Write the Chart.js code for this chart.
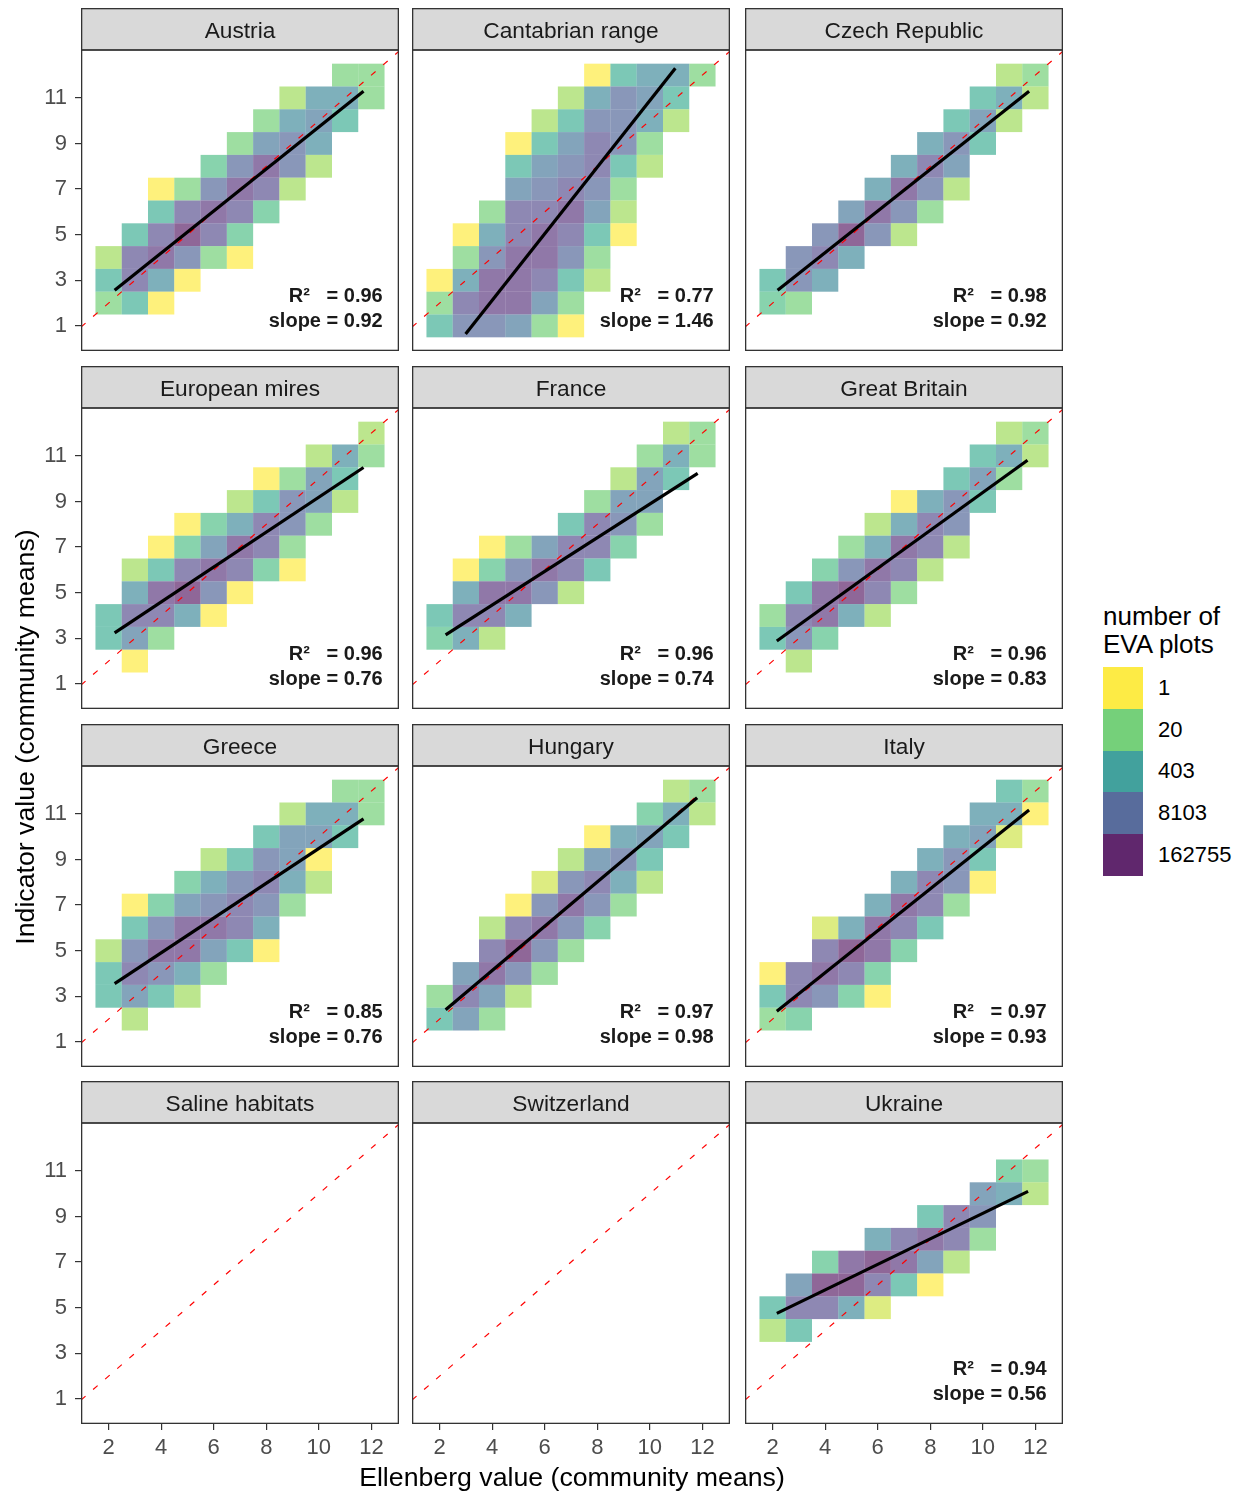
<!DOCTYPE html>
<html>
<head>
<meta charset="utf-8">
<script src="https://cdn.jsdelivr.net/npm/chart.js@4.4.0/dist/chart.umd.min.js"></script>
<style>
  body {
    margin: 0;
    width: 1243px;
    height: 1496px;
    position: relative;
    overflow: hidden;
    background: #fff;
    font-family: "Liberation Sans", Arial, sans-serif;
  }
  canvas { position: absolute; }
  .axis-title {
    position: absolute;
    font-size: 26.7px;
    line-height: 30px;
    color: #000;
    text-align: center;
    white-space: nowrap;
  }
  #xTitle { left: 81px; width: 982px; top: 1462px; }
  #yTitle { left: -425px; width: 900px; top: 722px; transform: rotate(-90deg); }
  #legend { position: absolute; left: 1103px; top: 602px; }
  .legend-title { font-size: 26px; line-height: 28px; color: #000; white-space: nowrap; }
  #legendKeys { position: absolute; left: 0; top: 65px; }
  .key { display: flex; align-items: center; height: 41.8px; }
  .swatch { width: 40px; height: 41.8px; }
  .key span { margin-left: 15px; font-size: 22px; color: #000; }
</style>
</head>
<body>
<div id="facets"></div>
<div id="xTitle" class="axis-title">Ellenberg value (community means)</div>
<div id="yTitle" class="axis-title">Indicator value (community means)</div>
<div id="legend">
  <div class="legend-title">number of<br>EVA plots</div>
  <div id="legendKeys"></div>
</div>
<script>
// ---- data -------------------------------------------------------------
const panelNames = [
  "Austria", "Cantabrian range", "Czech Republic",
  "European mires", "France", "Great Britain",
  "Greece", "Hungary", "Italy",
  "Saline habitats", "Switzerland", "Ukraine",
];

const xTicks = [2, 4, 6, 8, 10, 12];
const yTicks = [1, 3, 5, 7, 9, 11];

// grid strings: one string per indicator value (12 at the top down to 1),
// one character per Ellenberg value 2..12, character = ln(number of plots)
// in hex (0 = 1 plot ... c = 162755 plots), "." = no plots
const cellXs = [2, 3, 4, 5, 6, 7, 8, 9, 10, 11, 12];
const cellYs = [12, 11, 10, 9, 8, 7, 6, 5, 4, 3, 2, 1];

const austriaCells = [
  ".........33", ".......2773", "......3785.", ".....3897..",
  "....49b92..", "..039ba2...", "..5aba4....", ".5aca4.....",
  "2ab930.....", "5a70.......", "350........", "...........",
];
const cantabrianCells = [
  "......05773", ".....27985.", "....259972.", "...058a93..",
  "...589a52..", "...89a93...", "..3aab82...", ".07aba50...",
  ".39bb93....", "07bba52....", "3abb83.....", "599830.....",
];
const czechCells = [
  ".........23", "........572", ".......582.", "......795..",
  ".....7a8...", "....7b92...", "...8b93....", "..9c92.....",
  ".9a7.......", "597........", "43.........", "...........",
];
const miresCells = [
  "..........2", "........273", "......0385.", ".....25982.",
  "...047a93..", "..048ba3...", ".25aba40...", ".7bc90.....",
  "5aa70......", "583........", ".0.........", "...........",
];
const franceCells = [
  ".........23", "........373", ".......285.", "......388..",
  ".....5a93..", "..038aa4...", ".049ba5....", ".7bb92.....",
  "5aa7.......", "472........", "...........", "...........",
];
const britainCells = [
  ".........23", "........572", ".......583.", ".....0795..",
  "....27a9...", "...37ba2...", "..49ba2....", ".5bca3.....",
  "3ab72......", "594........", ".2.........", "...........",
];
const greeceCells = [
  ".........33", ".......2773", "......5885.", "....25980..",
  "...479a72..", ".0489a93...", ".59bba7....", "29bb850....",
  "5a973......", "5852.......", ".2.........", "...........",
];
const hungaryCells = [
  ".........23", "........472", "......0785.", ".....2895..",
  "....19a72..", "...09b93...", "..2ab94....", "..ac93.....",
  ".8b93......", "3a82.......", "583........", "...........",
];
const italyCells = [
  ".........53", "........770", ".......781.", "......795..",
  ".....7a90..", "....7ba3...", "..17ba5....", "..acb4.....",
  "0aba4......", "5a940......", "34.........", "...........",
];
const salineCells = [];
const switzerlandCells = [];
const ukraineCells = [
  "...........", ".........43", "........872", "......5a9..",
  "....7aba3..", "..4bcb82...", ".8cca50....", "5aa71......",
  "25.........", "...........", "...........", "...........",
];

const panelCells = [
  austriaCells, cantabrianCells, czechCells,
  miresCells, franceCells, britainCells,
  greeceCells, hungaryCells, italyCells,
  salineCells, switzerlandCells, ukraineCells,
];

// regression line ends: [x0, y0, x1, y1]
const fitLines = [
  [2.23, 2.56, 11.70, 11.29], [2.99, 0.65, 10.97, 12.30], [2.19, 2.56, 11.76, 11.29],
  [2.23, 3.24, 11.70, 10.49], [2.23, 3.15, 11.82, 10.23], [2.16, 2.88, 11.70, 10.81],
  [2.23, 3.56, 11.70, 10.78], [2.23, 2.41, 11.80, 11.71], [2.16, 2.34, 11.76, 11.17],
  null, null, [2.16, 4.75, 11.72, 10.10],
];
const r2Labels = ["0.96", "0.77", "0.98", "0.96", "0.96", "0.96", "0.85", "0.97", "0.97", null, null, "0.94"];
const slopeLabels = ["0.92", "1.46", "0.92", "0.76", "0.74", "0.83", "0.76", "0.98", "0.93", null, null, "0.56"];

const legendCounts = [1, 20, 403, 8103, 162755];

// ---- look -------------------------------------------------------------
const X_MIN = 0.95, X_MAX = 13.05, Y_MIN = -0.1, Y_MAX = 13.1;
const LABEL_X = 12.43, LABEL_Y_R2 = 2.3, LABEL_Y_SLOPE = 1.2;
const MAX_LOG = 12;
const CELL_ALPHA = 0.6, KEY_ALPHA = 0.85;

const colLefts = [81, 412, 745];
const rowTops = [8, 366, 724, 1081];
const PANEL_W = 318, STRIP_H = 42, PLOT_H = 301, Y_AXIS_W = 81, X_AXIS_H = 45;

const FONT = '"Liberation Sans", Arial, sans-serif';
Chart.defaults.font.family = FONT;

const viridis = ["#440154", "#472D7B", "#3B528B", "#2C728E", "#21908C", "#27AD81", "#5DC863", "#AADC32", "#FDE725"];

function hexRgb(h) {
  return [1, 3, 5].map((i) => parseInt(h.slice(i, i + 2), 16));
}

// reversed viridis on ln(count): few plots = yellow, many = purple
function fillFor(logCount, alpha) {
  const p = Math.max(0, Math.min(1, 1 - logCount / MAX_LOG)) * (viridis.length - 1);
  const i = Math.min(Math.floor(p), viridis.length - 2);
  const f = p - i;
  const a = hexRgb(viridis[i]), b = hexRgb(viridis[i + 1]);
  const c = a.map((v, k) => Math.round(v + (b[k] - v) * f));
  return `rgba(${c[0]}, ${c[1]}, ${c[2]}, ${alpha})`;
}

function cellsFrom(rows) {
  const out = [];
  rows.forEach((row, r) => {
    [...row].forEach((ch, c) => {
      if (ch === ".") return;
      out.push({ x: cellXs[c], y: [cellYs[r] - 0.5, cellYs[r] + 0.5], logCount: parseInt(ch, 16) });
    });
  });
  return out;
}

// strip box, panel border and the R² / slope text
const facetFrame = {
  id: "facetFrame",
  beforeDraw(chart) {
    const { ctx, chartArea: a } = chart;
    ctx.save();
    ctx.fillStyle = "#D9D9D9";
    ctx.fillRect(a.left, 0, a.right - a.left, a.top);
    ctx.restore();
  },
  afterDatasetsDraw(chart, args, opts) {
    if (!opts.r2) return;
    const { ctx } = chart;
    const x = chart.scales.x, y = chart.scales.y;
    ctx.save();
    ctx.font = `bold 20px ${FONT}`;
    ctx.fillStyle = "#1A1A1A";
    ctx.textAlign = "right";
    ctx.textBaseline = "middle";
    const right = x.getPixelForValue(LABEL_X);
    ctx.fillText(`R²   = ${opts.r2}`, right, y.getPixelForValue(LABEL_Y_R2));
    ctx.fillText(`slope = ${opts.slope}`, right, y.getPixelForValue(LABEL_Y_SLOPE));
    ctx.restore();
  },
  afterDraw(chart) {
    const { ctx, chartArea: a } = chart;
    ctx.save();
    ctx.strokeStyle = "#333333";
    ctx.lineWidth = 1.3;
    ctx.strokeRect(a.left + 0.65, 0.65, a.right - a.left - 1.3, a.top - 0.65);
    ctx.strokeRect(a.left + 0.65, a.top, a.right - a.left - 1.3, a.bottom - a.top - 0.65);
    ctx.restore();
  },
};

function axisTicks(values) {
  return (scale) => {
    scale.ticks = values.map((v) => ({ value: v }));
  };
}

const tickStyle = {
  autoSkip: false,
  maxRotation: 0,
  color: "#4D4D4D",
  font: { size: 22 },
  callback: (v) => String(v),
};
const tickGrid = { display: true, drawOnChartArea: false, drawTicks: true, tickLength: 6, color: "#333333", lineWidth: 1.2, offset: false };

const facets = document.getElementById("facets");

panelNames.forEach((name, i) => {
  const col = i % 3, row = Math.floor(i / 3);
  const leftCol = col === 0, bottomRow = row === 3;

  const canvas = document.createElement("canvas");
  const w = PANEL_W + (leftCol ? Y_AXIS_W : 0);
  const h = STRIP_H + PLOT_H + (bottomRow ? X_AXIS_H : 0);
  canvas.width = w;
  canvas.height = h;
  canvas.style.width = w + "px";
  canvas.style.height = h + "px";
  canvas.style.left = (leftCol ? 0 : colLefts[col]) + "px";
  canvas.style.top = rowTops[row] + "px";
  facets.appendChild(canvas);

  const datasets = [
    {
      type: "bar",
      data: cellsFrom(panelCells[i]),
      backgroundColor: (ctx) => (ctx.raw ? fillFor(ctx.raw.logCount, CELL_ALPHA) : "transparent"),
      borderWidth: 0,
      inflateAmount: 0,
      barPercentage: 1,
      categoryPercentage: 1,
      grouped: false,
      order: 3,
    },
    {
      type: "line",
      data: [{ x: X_MIN, y: X_MIN }, { x: X_MAX, y: X_MAX }],
      borderColor: "#FF0000",
      borderWidth: 1.2,
      borderDash: [6, 10],
      pointRadius: 0,
      order: 2,
    },
  ];
  const fit = fitLines[i];
  if (fit) {
    datasets.push({
      type: "line",
      data: [{ x: fit[0], y: fit[1] }, { x: fit[2], y: fit[3] }],
      borderColor: "#000000",
      borderWidth: 3.2,
      pointRadius: 0,
      order: 1,
    });
  }

  new Chart(canvas, {
    type: "bar",
    data: { datasets },
    options: {
      responsive: false,
      animation: false,
      layout: { padding: 0 },
      scales: {
        x: {
          type: "linear",
          min: X_MIN,
          max: X_MAX,
          offset: false,
          display: bottomRow,
          afterBuildTicks: axisTicks(xTicks),
          afterFit: (s) => {
            s.height = bottomRow ? X_AXIS_H : 0;
            s.paddingLeft = 0;
            s.paddingRight = 0;
          },
          ticks: { ...tickStyle, padding: 5 },
          grid: tickGrid,
          border: { display: false },
        },
        y: {
          type: "linear",
          min: Y_MIN,
          max: Y_MAX,
          beginAtZero: false,
          display: leftCol,
          afterBuildTicks: axisTicks(yTicks),
          afterFit: (s) => {
            s.width = leftCol ? Y_AXIS_W : 0;
            s.paddingTop = 0;
            s.paddingBottom = 0;
          },
          ticks: { ...tickStyle, padding: 8 },
          grid: tickGrid,
          border: { display: false },
        },
      },
      plugins: {
        legend: { display: false },
        tooltip: { enabled: false },
        title: {
          display: true,
          text: name,
          fullSize: false,
          color: "#1A1A1A",
          font: { size: 22.7, weight: "normal", lineHeight: 1.2 },
          padding: { top: 10.5, bottom: 4.26 },
        },
        facetFrame: { r2: r2Labels[i], slope: slopeLabels[i] },
      },
    },
    plugins: [facetFrame],
  });
});

// legend keys
const keys = document.getElementById("legendKeys");
legendCounts.forEach((count) => {
  const row = document.createElement("div");
  row.className = "key";
  const sw = document.createElement("div");
  sw.className = "swatch";
  sw.style.background = fillFor(Math.log(count), KEY_ALPHA);
  const label = document.createElement("span");
  label.textContent = count;
  row.appendChild(sw);
  row.appendChild(label);
  keys.appendChild(row);
});
</script>
</body>
</html>
